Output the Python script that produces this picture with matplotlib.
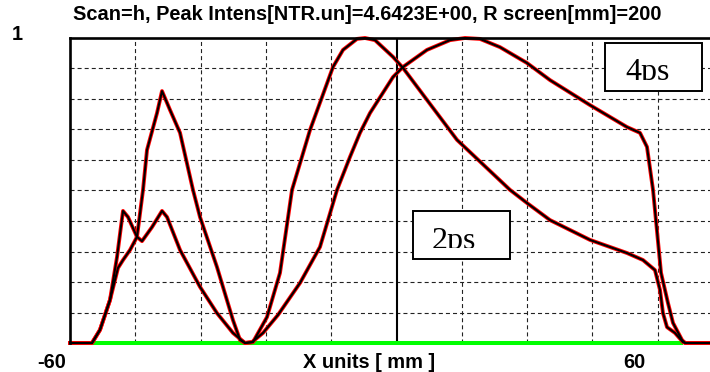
import matplotlib
matplotlib.use('Agg')
import matplotlib.pyplot as plt
from matplotlib.patches import Rectangle

# beam profile, broad top (label 4ps)
x_4ps = [-60, -55.96, -54.49, -52.65, -51.36, -50.26, -49.34, -47.69, -46.77, -44.93,
         -43.09, -42.17, -39.78, -36.11, -32.99, -30.05, -27.84, -26.55, -24.53, -21.78,
         -17.73, -14.06, -10.93, -8.55, -6.71, -4.87, -0.64, 1.19, 5.60, 9.83,
         12.59, 15.34, 19.02, 23.98, 28.21, 35.56, 42.36, 44.75, 46.03, 47.14,
         48.61, 49.89, 50.81, 52.46, 53.02, 60]
y_4ps = [0, 0, 0.043, 0.141, 0.282, 0.433, 0.413, 0.348, 0.334, 0.380,
         0.433, 0.413, 0.305, 0.184, 0.098, 0.033, 0, 0.003, 0.033, 0.092,
         0.197, 0.315, 0.502, 0.610, 0.689, 0.754, 0.872, 0.905, 0.961, 0.993,
         1.0, 0.997, 0.970, 0.918, 0.862, 0.780, 0.708, 0.689, 0.643, 0.502,
         0.230, 0.131, 0.066, 0.010, 0, 0]

# beam profile, tall left peak (label 2ps)
x_2ps = [-60, -55.96, -54.49, -52.65, -51.18, -50.26, -48.97, -47.69, -46.58, -45.85,
         -44.01, -43.09, -41.62, -39.78, -37.40, -36.11, -32.99, -30.05, -28.76, -27.84,
         -26.37, -23.80, -21.41, -19.20, -15.90, -11.67, -9.83, -7.26, -5.79, -3.95,
         -0.64, 1.19, 5.60, 11.12, 20.86, 23.98, 28.21, 35.56, 42.36, 45.30,
         47.50, 48.42, 48.97, 49.71, 51.18, 52.65, 53.2, 60]
y_2ps = [0, 0, 0.043, 0.141, 0.246, 0.272, 0.305, 0.348, 0.502, 0.633,
         0.754, 0.826, 0.764, 0.689, 0.502, 0.413, 0.249, 0.075, 0.010, 0,
         0.003, 0.085, 0.230, 0.502, 0.698, 0.905, 0.961, 0.997, 1.0, 0.993,
         0.938, 0.902, 0.797, 0.666, 0.502, 0.459, 0.403, 0.338, 0.295, 0.272,
         0.239, 0.174, 0.098, 0.052, 0.033, 0.003, 0, 0]

x_grid = [-48, -36, -24, -12, 12, 24, 36, 48]
y_grid = [0.1, 0.2, 0.3, 0.4, 0.5, 0.6, 0.7, 0.8, 0.9]

plt.rcParams['lines.scale_dashes'] = False
fig = plt.figure(figsize=(7.1, 3.72), dpi=100)
ax = fig.add_axes([70/710, 29/372, 653/710, 305/372])
ax.set_xlim(-60, 60)
ax.set_ylim(0, 1)
ax.set_xticks([])
ax.set_yticks([])
for s in ['bottom', 'right']:
    ax.spines[s].set_visible(False)
for s in ['left', 'top']:
    ax.spines[s].set_linewidth(1.9)
    ax.spines[s].set_zorder(6)

dash = (0, (2.9, 2.2))
for gx in x_grid:
    ax.axvline(gx, color='#222222', lw=0.8, ls=dash, zorder=1)
for gy in y_grid:
    ax.axhline(gy, color='#222222', lw=0.8, ls=dash, zorder=1)
ax.axvline(0, color='black', lw=1.5, zorder=2)

ax.plot([-60, 52.65], [0, 0], color='#00ff00', lw=2.9, solid_capstyle='butt',
        zorder=2, clip_on=False)

for xs, ys in [(x_4ps, y_4ps), (x_2ps, y_2ps)]:
    ax.plot(xs, ys, color='red', lw=2.8, zorder=3, clip_on=False)
    ax.plot(xs, ys, color='black', lw=1.5, zorder=4, clip_on=False)

# label boxes, text cut off at the bottom like the original
for lab, bx, by, bw, bh, tx, ty, cy in [('4ps', 38.32, 0.826, 17.82, 0.158, 42.0, 0.863, 0.862),
                                         ('2ps', 3.03, 0.275, 17.83, 0.158, 6.5, 0.309, 0.311)]:
    ax.add_patch(Rectangle((bx, by), bw, bh, facecolor='white', edgecolor='none', zorder=7))
    ax.text(tx, ty, lab, fontfamily='Liberation Serif', fontsize=23,
            ha='left', va='baseline', zorder=8)
    ax.add_patch(Rectangle((bx, by), bw, cy - by, facecolor='white', edgecolor='none', zorder=9))
    ax.add_patch(Rectangle((bx, by), bw, bh, facecolor='none', edgecolor='black',
                           lw=1.4, zorder=10))

kw = dict(fontfamily='Liberation Sans', fontweight='bold', fontsize=14.4,
          ha='center', va='center')
fig.text(367/710, 1 - 15/372, 'Scan=h, Peak Intens[NTR.un]=4.6423E+00, R screen[mm]=200', **kw)
fig.text(17/710, 1 - 34/372, '1', **kw)
fig.text(52/710, 1 - 362/372, '-60', **kw)
fig.text(369/710, 1 - 362/372, 'X units [ mm ]', **kw)
fig.text(634/710, 1 - 362/372, '60', **kw)

fig.savefig('out.png', dpi=100)
